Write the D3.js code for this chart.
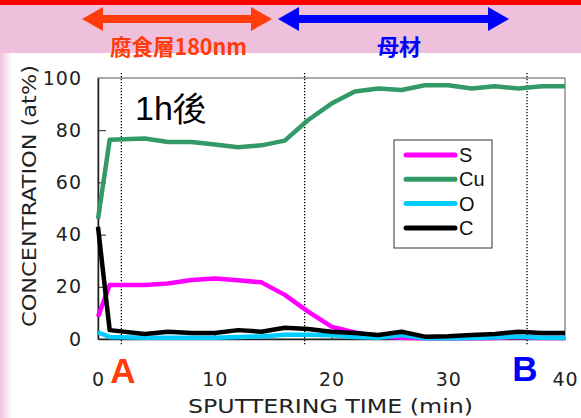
<!DOCTYPE html>
<html>
<head>
<meta charset="utf-8">
<script src="https://d3js.org/d3.v7.min.js"></script>
<style>
  body { margin: 0; background: #fff; }
  svg { display: block; }
</style>
</head>
<body>
<svg width="581" height="418"></svg>
<script>
// sputtering time (min)
var times = [0, 1, 4, 6, 8, 10, 12, 14, 16, 18, 20, 22, 24, 26, 28, 30, 32, 34, 36, 38, 40];
var sVals  = [8.5, 20.7, 20.7, 21.3, 22.6, 23.2, 22.5, 21.7, 16.9, 10.5, 4.7, 2.5, 1.0, 0.5, 0.3, 0.3, 0.3, 0.4, 0.8, 0.4, 0.4];
var cuVals = [46, 76.3, 76.8, 75.5, 75.5, 74.5, 73.5, 74.2, 76, 83.9, 90.2, 94.8, 96, 95.4, 97.2, 97.2, 96, 96.8, 96, 96.8, 96.8];
var oVals  = [2.5, 0.8, 0.5, 0.5, 0.5, 0.5, 0.8, 1.0, 1.6, 1.6, 1.4, 0.8, 0.5, 1.5, 0.3, 0.3, 0.4, 0.6, 1.0, 0.5, 0.5];
var cVals  = [43, 3.4, 1.9, 2.8, 2.3, 2.3, 3.4, 2.8, 4.3, 3.8, 2.8, 2.3, 1.5, 2.8, 0.9, 1.1, 1.5, 1.9, 2.8, 2.3, 2.3];

var seriesNames = ["S", "Cu", "O", "C"];
var seriesColors = ["#ff00ff", "#339966", "#00ccff", "#000000"];
var seriesData = [sVals, cuVals, oVals, cVals];

var xTicks = [0, 10, 20, 30, 40];
var yTicks = [0, 20, 40, 60, 80, 100];
var markerTimes = [2, 17.7, 36.75];

var svg = d3.select("svg");
var font = "'Liberation Sans', Arial, sans-serif";
var tickFont = "'DejaVu Sans', sans-serif";

// background bands
var defs = svg.append("defs");
var grad = defs.append("linearGradient").attr("id", "leftfade");
grad.append("stop").attr("offset", "0").attr("stop-color", "#eec0dc");
grad.append("stop").attr("offset", "1").attr("stop-color", "#ffffff");

svg.append("rect").attr("x", 0).attr("y", 0).attr("width", 581).attr("height", 418).attr("fill", "#eec0dc");
svg.append("rect").attr("x", 0).attr("y", 53).attr("width", 581).attr("height", 365).attr("fill", "#fff");
svg.append("rect").attr("x", 0).attr("y", 53).attr("width", 12).attr("height", 365).attr("fill", "url(#leftfade)");
svg.append("rect").attr("x", 0).attr("y", 0).attr("width", 581).attr("height", 5).attr("fill", "#ff0000");

// header arrows
function arrow(x1, x2, yc, color) {
  var head = 21, hh = 12, sh = 4;
  var p = [[x1, yc], [x1 + head, yc - hh], [x1 + head, yc - sh], [x2 - head, yc - sh], [x2 - head, yc - hh],
           [x2, yc], [x2 - head, yc + hh], [x2 - head, yc + sh], [x1 + head, yc + sh], [x1 + head, yc + hh]];
  svg.append("polygon").attr("points", p.map(function(d) { return d.join(","); }).join(" ")).attr("fill", color);
}
arrow(82, 272, 19, "#ff3c0a");
arrow(278, 509, 19, "#0000ff");

svg.append("text").attr("x", 110).attr("y", 55)
  .attr("textLength", 137).attr("lengthAdjust", "spacingAndGlyphs")
  .style("font-family", "'Noto Sans CJK JP', sans-serif").style("font-weight", "bold")
  .style("font-size", "22px").attr("fill", "#ff3c0a").text("腐食層180nm");
svg.append("text").attr("x", 399).attr("y", 55).attr("text-anchor", "middle")
  .style("font-family", "'Noto Sans CJK JP', sans-serif").style("font-weight", "bold")
  .style("font-size", "22px").attr("fill", "#0000ff").text("母材");

// plot
var pLeft = 98, pRight = 565, pTop = 78, pBottom = 339;
var x = d3.scaleLinear().domain([0, 40]).range([pLeft, pRight]);
var y = d3.scaleLinear().domain([0, 100]).range([pBottom, pTop]);

svg.append("rect").attr("x", pLeft).attr("y", pTop).attr("width", pRight - pLeft).attr("height", pBottom - pTop)
  .attr("fill", "none").attr("stroke", "#555").attr("stroke-width", 1);

var xAxis = svg.append("g").attr("transform", "translate(0," + pBottom + ")")
  .call(d3.axisBottom(x).tickValues(xTicks).tickSizeInner(-4).tickSizeOuter(0).tickPadding(34));
var yAxis = svg.append("g").attr("transform", "translate(" + pLeft + ",0)")
  .call(d3.axisLeft(y).tickValues(yTicks).tickSizeInner(-8).tickSizeOuter(0).tickPadding(16));
[xAxis, yAxis].forEach(function(a) {
  a.select(".domain").attr("stroke", "#222").attr("stroke-width", 1.5);
  a.selectAll(".tick line").attr("stroke", "#222");
  a.selectAll("text").style("font-family", tickFont).style("font-size", "19px")
    .style("letter-spacing", "1px").attr("fill", "#222");
});
yAxis.selectAll(".tick").filter(function(d) { return d === 0 || d === 100; }).select("line").remove();
xAxis.selectAll(".tick").filter(function(d) { return d === 0 || d === 40; }).select("line").remove();

// dotted markers
svg.selectAll(".marker").data(markerTimes).enter().append("line")
  .attr("x1", function(d) { return x(d); }).attr("x2", function(d) { return x(d); })
  .attr("y1", pTop - 5).attr("y2", pBottom + 6)
  .attr("stroke", "#000").attr("stroke-width", 1.3).attr("stroke-dasharray", "1.3,1.7");

// series lines
var line = d3.line().x(function(d, i) { return x(times[i]); }).y(function(d) { return y(d); });
var drawOrder = [1, 0, 2, 3];
drawOrder.forEach(function(k) {
  svg.append("path").datum(seriesData[k]).attr("d", line)
    .attr("fill", "none").attr("stroke", seriesColors[k]).attr("stroke-width", 4.5)
    .attr("stroke-linejoin", "round");
});

// legend
svg.append("rect").attr("x", 394).attr("y", 140).attr("width", 98).attr("height", 108)
  .attr("fill", "#fff").attr("stroke", "#333").attr("stroke-width", 1);
seriesNames.forEach(function(n, i) {
  var ly = 155 + i * 24.3;
  svg.append("line").attr("x1", 406).attr("x2", 455).attr("y1", ly).attr("y2", ly)
    .attr("stroke", seriesColors[i]).attr("stroke-width", 5).attr("stroke-linecap", "round");
  svg.append("text").attr("x", 459).attr("y", ly + 7).style("font-family", font)
    .style("font-size", "20px").attr("fill", "#111").text(n);
});

// annotations
svg.append("text").attr("x", 135).attr("y", 120).style("font-family", font)
  .style("font-size", "34px").attr("fill", "#000").text("1h後");
svg.append("text").attr("x", 123).attr("y", 383).attr("text-anchor", "middle").style("font-family", font)
  .style("font-weight", "bold").style("font-size", "35px").attr("fill", "#ff3c0a").text("A");
svg.append("text").attr("x", 525).attr("y", 381).attr("text-anchor", "middle").style("font-family", font)
  .style("font-weight", "bold").style("font-size", "35px").attr("fill", "#0000ff").text("B");

// axis titles
svg.append("text").attr("x", 188).attr("y", 413)
  .attr("textLength", 285).attr("lengthAdjust", "spacingAndGlyphs")
  .style("font-family", tickFont).style("font-size", "19px").attr("fill", "#222")
  .text("SPUTTERING TIME (min)");
svg.append("text").attr("transform", "translate(36,327) rotate(-90)")
  .attr("textLength", 262).attr("lengthAdjust", "spacingAndGlyphs")
  .style("font-family", tickFont).style("font-size", "19px").attr("fill", "#222")
  .text("CONCENTRATION (at%)");
</script>
</body>
</html>
